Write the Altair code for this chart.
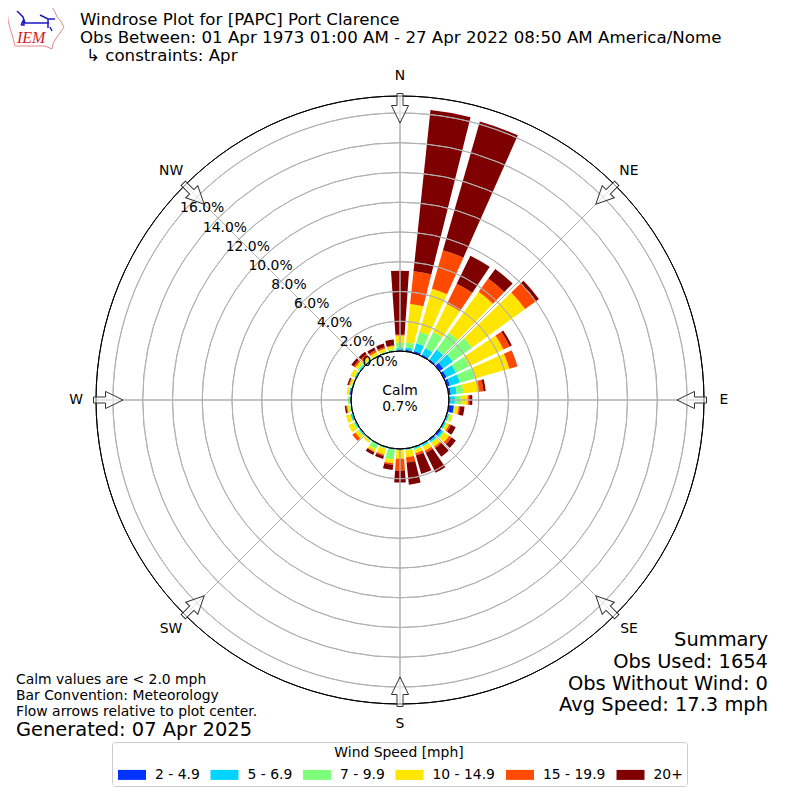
import math
import altair as alt
import pandas as pd

FONT = "DejaVu Sans"
BINS = ["2 - 4.9", "5 - 6.9", "7 - 9.9", "10 - 14.9", "15 - 19.9", "20+"]
COLORS = ["#0033ff", "#00d4ff", "#7dff7a", "#ffe600", "#ff4a00", "#7f0000"]

DIRS = list(range(0, 360, 10))
S1 = [.05, .10, .13, .10, .10, .30, .20, .20, .15, .05, .35, .05, .05, .15, .10, .05, .03, .03, .02, .05,
      .03, .02, .02, .02, .01, .02, .01, .01, .10, .01, .01, .02, .01, .01, .01, .02]
S2 = [.15, .15, .55, .50, .80, .80, .70, .70, .40, .35, .02, .10, .10, .15, .10, .10, .10, .05, .02, .03,
      .05, .05, .05, .10, .10, .15, .05, .05, .05, .05, .10, .10, .05, .03, .03, .03]
S3 = [.35, .35, .80, 1.20, 1.40, 1.60, 1.00, 1.05, .45, .40, .05, .10, .05, .10, .10, .05, .05, .05, .02, .65,
      .05, .30, .05, .05, .10, .02, .07, .15, .02, .03, .05, .10, .05, .05, .06, .10]
S4 = [.50, 2.60, 3.00, 2.10, 3.40, 4.40, 2.55, 2.40, 1.05, .47, .25, .15, .20, .40, .30, .30, .25, .45, .60, .25,
      .40, .20, .13, .25, .35, .30, .15, .00, .15, .15, .25, .20, .20, .20, .20, .20]
S5 = [.05, 2.20, 2.70, 1.50, 1.10, .90, .47, .55, .30, .10, .10, .00, .12, .20, .12, .15, .15, .35, .80, .10,
      .10, .05, .00, .25, .00, .00, .06, .00, .00, .05, .00, .13, .20, .15, .10, .05]
S6 = [4.30, 10.90, 9.00, 2.10, .80, .25, .15, .02, .15, .20, .30, .00, .35, .35, .70, 1.50, 1.30, 1.50, .80, .35,
      .20, .20, .00, .00, .00, .00, .10, .00, .00, .10, .00, .20, .20, .20, .25, .40]
SERIES = [S1, S2, S3, S4, S5, S6]

BAR_HALF = 4
RING_PCT = [0, 2, 4, 6, 8, 10, 12, 14, 16]
OUTER_PCT = 17.14
SPOKES = [0, 45, 90, 135, 180, 225, 270, 315]
COMPASS = ["N", "NE", "E", "SE", "S", "SW", "W", "NW"]
RLABEL_ANGLE = 310
COMPASS_PCT = 18.47
ARROW_R = 291.5

rows = []
for i, d in enumerate(DIRS):
    cum = 0.0
    for b, s in zip(BINS, SERIES):
        rows.append(dict(bin=b, a0=d - BAR_HALF + 360, a1=d + BAR_HALF + 360, r0=cum, r1=cum + s[i]))
        cum += s[i]
bars = pd.DataFrame(rows)

T = alt.Scale(type="linear", domain=[0, 360], range=[0, 2 * math.pi])
R = alt.Scale(type="linear", domain=[0, OUTER_PCT], range=[49, 304], zero=False)
PX = alt.Scale(type="linear", domain=[8, 792], range=[0, 784])
theta = lambda f: alt.Theta(f, type="quantitative", scale=T)
radius = lambda f: alt.Radius(f, type="quantitative", scale=R)

legend = alt.Legend(
    orient="none", legendX=104, legendY=734, direction="horizontal", columns=6,
    title="Wind Speed [mph]", titleFont=FONT, titleFontSize=13.9, titleFontWeight="normal", titleAnchor="middle",
    titleColor="black", titlePadding=5,
    labelFont=FONT, labelFontSize=13.9, labelColor="black", labelOffset=19,
    symbolType="M-0.8,-0.5H2V0.5H-0.8Z", symbolSize=400, symbolStrokeWidth=0, symbolOpacity=1,
    gridAlign="none", columnPadding=8.5, rowPadding=2,
    strokeColor="#cccccc", padding=4, cornerRadius=3, fillColor="white",
)

bar_layer = alt.Chart(bars).mark_arc().encode(
    theta=theta("a0"), theta2="a1", radius=radius("r0"), radius2="r1",
    color=alt.Color("bin:N", scale=alt.Scale(domain=BINS, range=COLORS), legend=legend),
)

rings = pd.DataFrame({"p": RING_PCT, "a0": 0, "a1": 360})
ring_layer = alt.Chart(rings).mark_arc(filled=False, stroke="#b0b0b0", strokeWidth=1).encode(
    theta=theta("a0"), theta2="a1", radius=radius("p"), radius2="p")

spokes = pd.DataFrame({"a0": SPOKES, "a1": [a + 0.001 for a in SPOKES], "p0": 0.0, "p1": OUTER_PCT})
spoke_layer = alt.Chart(spokes).mark_arc(filled=False, stroke="#b0b0b0", strokeWidth=1).encode(
    theta=theta("a0"), theta2="a1", radius=radius("p0"), radius2="p1")

inner_layer = alt.Chart(pd.DataFrame({"p": [0], "a0": [0], "a1": [360]})).mark_arc(
    filled=False, stroke="black", strokeWidth=1).encode(
    theta=theta("a0"), theta2="a1", radius=radius("p"), radius2="p")
outer_layer = alt.Chart(pd.DataFrame({"p": [OUTER_PCT], "a0": [0], "a1": [360]})).mark_arc(
    filled=False, stroke="black", strokeWidth=1).encode(
    theta=theta("a0"), theta2="a1", radius=radius("p"), radius2="p")

ARROW = "M-0.2,-1 L0.2,-1 L0.2,-0.2 L0.57,-0.2 L0,0.97 L-0.57,-0.2 L-0.2,-0.2 Z"
arrows = pd.DataFrame({"deg": SPOKES})
arrows["x"] = [400 + ARROW_R * math.sin(math.radians(a)) for a in SPOKES]
arrows["y"] = [400 - ARROW_R * math.cos(math.radians(a)) for a in SPOKES]
arrow_layer = alt.Chart(arrows).mark_point(
    shape=ARROW, size=900, filled=True, fill="white", fillOpacity=0.6, stroke="#333333", strokeWidth=1, opacity=1
).encode(
    x=alt.X("x:Q", scale=PX, axis=None), y=alt.Y("y:Q", scale=PX, axis=None),
    angle=alt.Angle("deg:Q", scale=alt.Scale(domain=[0, 360], range=[0, 360])),
)

comp = pd.DataFrame({"a": SPOKES, "t": COMPASS, "p": COMPASS_PCT})
comp_layer = alt.Chart(comp).mark_text(font=FONT, fontSize=13.9, color="black").encode(
    theta=theta("a"), radius=radius("p"), text="t:N")

rl = pd.DataFrame({"p": RING_PCT, "a": RLABEL_ANGLE, "t": [f"{p:.1f}%" for p in RING_PCT]})
rl_layer = alt.Chart(rl).mark_text(font=FONT, fontSize=13.9, color="black", align="left", baseline="bottom").encode(
    theta=theta("a"), radius=radius("p"), text="t:N")

one = pd.DataFrame({"a": [0]})
def label(txt, px, py, size=13.9, align="left", color="black", font=FONT, style=None):
    kw = dict(font=font, fontSize=size, color=color, align=align, baseline="middle")
    if style:
        kw["fontStyle"] = style
    return alt.Chart(one).mark_text(**kw).encode(
        x=alt.value(px - 8), y=alt.value(py - 8), text=alt.value(txt))

TITLE = ["Windrose Plot for [PAPC] Port Clarence",
         "Obs Between: 01 Apr 1973 01:00 AM - 27 Apr 2022 08:50 AM America/Nome",
         "\u21b3 constraints: Apr"]
NOTES = ["Calm values are < 2.0 mph", "Bar Convention: Meteorology", "Flow arrows relative to plot center."]
SUMMARY = ["Summary", "Obs Used: 1654", "Obs Without Wind: 0", "Avg Speed: 17.3 mph"]

texts = []
texts += [label(t, x, y, 16.67) for t, x, y in zip(TITLE, [80, 80, 86], [20, 38, 56])]
texts += [label(t, 16, y, 13.9) for t, y in zip(NOTES, [680, 696, 712])]
texts += [label("Generated: 07 Apr 2025", 16, 730, 19.44)]
texts += [label(t, 768, y, 19.44, align="right") for t, y in zip(SUMMARY, [640, 662, 684, 705])]
texts += [label("Calm", 400, 391, 13.9, align="center"), label("0.7%", 400, 407, 13.9, align="center")]

# logo
def shape(points_list, cx=36, cy=28, half=30):
    out = []
    for pts in points_list:
        out.append("M" + " L".join(f"{(x-cx)/half:.3f},{(y-cy)/half:.3f}" for x, y in pts))
    return " ".join(out)

LOGO_OUTLINE = [[(7, 7), (52, 7), (55, 12), (57, 17), (60, 20), (64, 27), (60, 33), (57, 37), (55, 40), (53, 44),
                 (52, 49), (45, 46), (15, 46), (13, 38), (10, 28), (8, 20), (7, 7)]]
LOGO_BLUE = [[(17, 11), (23, 17), (25, 23), (49, 23)], [(40, 15), (48, 19), (55, 19)], [(48, 19), (48, 28)],
             [(50, 27), (52, 31)], [(21, 25), (24, 25), (23, 21), (21, 25)]]
logo = [
    alt.Chart(one).mark_point(shape=shape(LOGO_OUTLINE), size=3600, filled=False, stroke="#e58a8a",
                              strokeWidth=1, opacity=1).encode(x=alt.value(28), y=alt.value(20)),
    alt.Chart(one).mark_point(shape=shape(LOGO_BLUE), size=3600, filled=False, stroke="#1a1ac8",
                              strokeWidth=1.5, opacity=1).encode(x=alt.value(28), y=alt.value(20)),
    label("IEM", 17, 38, 16, color="#d02028", font="Liberation Serif", style="italic"),
]

chart = alt.layer(
    bar_layer, ring_layer, spoke_layer, inner_layer, outer_layer, arrow_layer, comp_layer, rl_layer, *texts, *logo
).resolve_scale(x="shared", y="shared", theta="shared", radius="shared").properties(
    width=784, height=784, padding=0, autosize=alt.AutoSizeParams(type="none")
).configure_view(stroke=None)

chart.save("out.html", embed_options={"renderer": "svg", "actions": False})
